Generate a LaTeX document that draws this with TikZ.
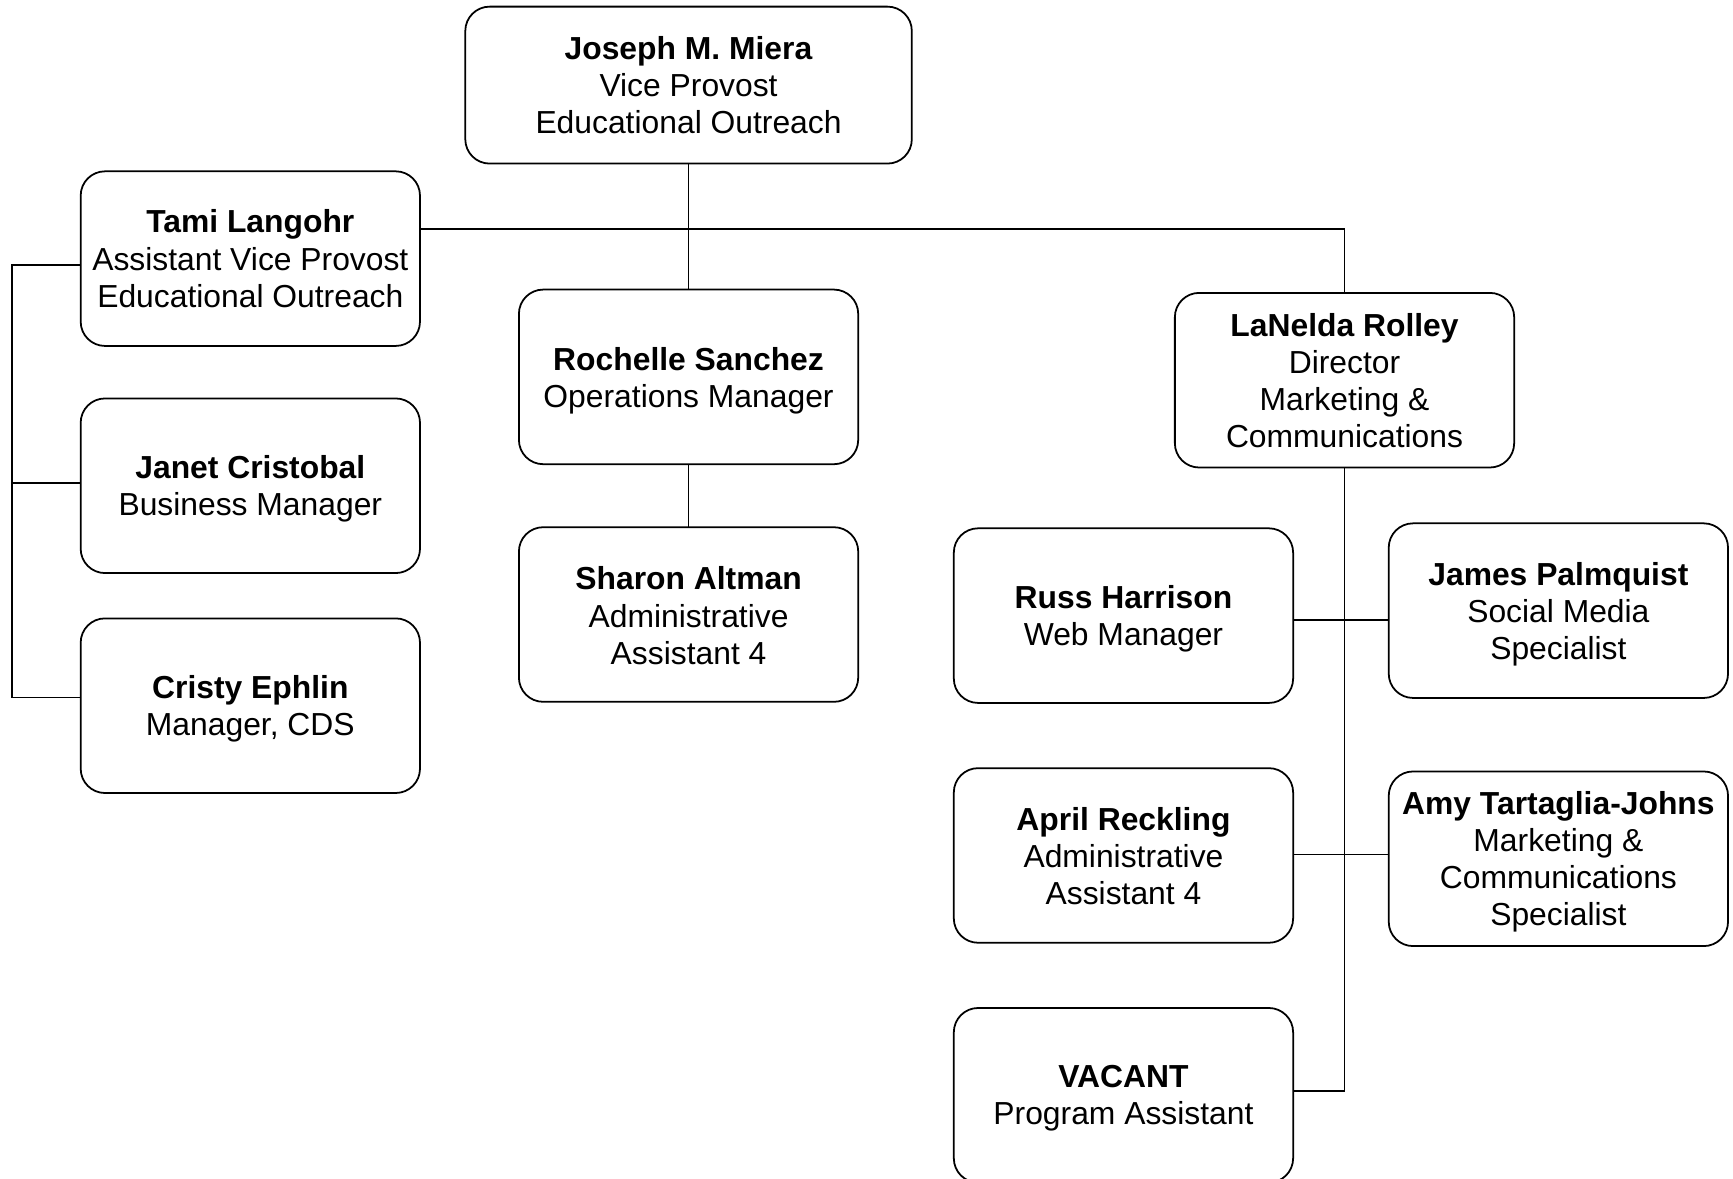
\documentclass[tikz,border=0pt]{standalone}
\usepackage{fontspec}
\setmainfont{Liberation Sans}
\begin{document}
\begin{tikzpicture}[x=0.5pt,y=-0.5pt,
  box/.style={draw, line width=0.8pt, rounded corners=11pt, minimum width=153.5pt, minimum height=79pt,
    inner sep=0pt, outer sep=0pt},
  txt/.style={align=center, inner sep=0pt, font=\fontsize{14.4}{16.75}\selectfont},
  conn/.style={line width=0.7pt}]
\useasboundingbox (0,0) rectangle (1568,1066);
\node[box, minimum width=202pt, minimum height=71pt] (joseph) at (623,77) {};
\node[txt] (joseph-t) at (joseph.center) {\textbf{Joseph M. Miera}\\Vice Provost\\Educational Outreach};
\node[box] (tami) at (226.5,234) {};
\node[txt] (tami-t) at (tami.center) {\textbf{Tami Langohr}\\Assistant Vice Provost\\Educational Outreach};
\node[box] (janet) at (226.5,439.5) {};
\node[txt] (janet-t) at ([yshift=-1.5pt]janet.center) {\textbf{Janet Cristobal}\\Business Manager};
\node[box] (cristy) at (226.5,638.5) {};
\node[txt] (cristy-t) at ([yshift=-1.5pt]cristy.center) {\textbf{Cristy Ephlin}\\Manager, CDS};
\node[box] (rochelle) at (623,341) {};
\node[txt] (rochelle-t) at ([yshift=-1.8pt]rochelle.center) {\textbf{Rochelle Sanchez}\\Operations Manager};
\node[box] (sharon) at (623,556) {};
\node[txt] (sharon-t) at ([yshift=-0.5pt]sharon.center) {\textbf{Sharon Altman}\\Administrative\\Assistant 4};
\node[box] (lanelda) at (1216.5,344) {};
\node[txt] (lanelda-t) at (lanelda.center) {\textbf{LaNelda Rolley}\\Director\\Marketing \&\\Communications};
\node[box] (russ) at (1016.5,557) {};
\node[txt] (russ-t) at ([yshift=-1.5pt]russ.center) {\textbf{Russ Harrison}\\Web Manager};
\node[box] (james) at (1410,552.5) {};
\node[txt] (james-t) at ([yshift=-1.5pt]james.center) {\textbf{James Palmquist}\\Social Media\\Specialist};
\node[box] (april) at (1016.5,774) {};
\node[txt] (april-t) at ([yshift=-0.5pt]april.center) {\textbf{April Reckling}\\Administrative\\Assistant 4};
\node[box] (amy) at (1410,777) {};
\node[txt] (amy-t) at ([yshift=-1.5pt]amy.center) {\textbf{Amy Tartaglia-Johns}\\Marketing \&\\Communications\\Specialist};
\node[box] (vacant) at (1016.5,991) {};
\node[txt] (vacant-t) at ([yshift=-1.5pt]vacant.center) {\textbf{VACANT}\\Program Assistant};
% connectors
\coordinate (top) at (0,207);
\coordinate (b1) at (11,240);
\coordinate (b2) at (11,437);
\coordinate (b3) at (11,631);
\coordinate (rj) at (0,561);
\coordinate (aa) at (0,773);
\coordinate (vc) at (0,987);
\draw[conn] (joseph.south) -- (rochelle.north);
\draw[conn] (rochelle.south) -- (sharon.north);
\draw[conn] (tami.east |- top) -| (lanelda.north);
\draw[conn] (tami.west |- b1) -- (b1) -- (b3) -- (cristy.west |- b3);
\draw[conn] (b2) -- (janet.west |- b2);
\draw[conn] (lanelda.south) |- (vacant.east |- vc);
\draw[conn] (russ.east |- rj) -- (james.west |- rj);
\draw[conn] (april.east |- aa) -- (amy.west |- aa);
\end{tikzpicture}
\end{document}
